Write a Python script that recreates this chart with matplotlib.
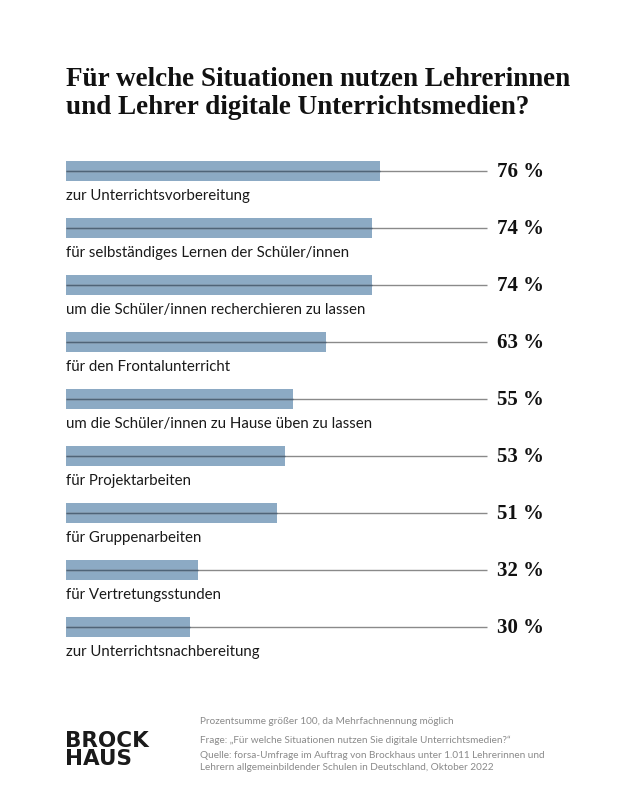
import matplotlib.pyplot as plt

# data
labels = [
    "zur Unterrichtsvorbereitung",
    "für selbständiges Lernen der Schüler/innen",
    "um die Schüler/innen recherchieren zu lassen",
    "für den Frontalunterricht",
    "um die Schüler/innen zu Hause üben zu lassen",
    "für Projektarbeiten",
    "für Gruppenarbeiten",
    "für Vertretungsstunden",
    "zur Unterrichtsnachbereitung",
]
values = [76, 74, 74, 63, 55, 53, 51, 32, 30]

title = "Für welche Situationen nutzen Lehrerinnen\nund Lehrer digitale Unterrichtsmedien?"
notes = [
    "Prozentsumme größer 100, da Mehrfachnennung möglich",
    "Frage: „Für welche Situationen nutzen Sie digitale Unterrichtsmedien?“",
    "Quelle: forsa-Umfrage im Auftrag von Brockhaus unter 1.011 Lehrerinnen und",
    "Lehrern allgemeinbildender Schulen in Deutschland, Oktober 2022",
]

bar_color = "#8caac4"
line_color = "#8a8a8a"
W, H = 636, 806

fig = plt.figure(figsize=(W / 100, H / 100), dpi=100)
fig.patch.set_facecolor("white")

# axes in pixel placement: x 66..479 px = 0..100 %, y 142.5..655.5 px
left, right = 66, 479
top, bottom = 142.5, 655.5
ax = fig.add_axes([left / W, 1 - bottom / H, (right - left) / W, (bottom - top) / H])
ax.set_xlim(0, 100)
ax.set_ylim(len(values) - 0.5, -0.5)
ax.axis("off")

ypos = list(range(len(values)))
ax.barh(ypos, values, height=0.36, color=bar_color, zorder=1)
ax.hlines(ypos, 0, 102, color=line_color, lw=1, zorder=2, clip_on=False)
ax.hlines(ypos, 0, values, color="#4f6478", lw=1, zorder=3)

for i, (lab, v) in enumerate(zip(labels, values)):
    ax.text(0, i + 0.43, lab, ha="left", va="center", fontsize=10.8,
            family="Lato", color="#1a1a1a")
    ax.text(104.4, i + 0.02, f"{v} %", ha="left", va="center", fontsize=15,
            family="Liberation Serif", weight="bold", color="#111111")

fig.text(66 / W, 1 - 76 / H, title.split("\n")[0], ha="left", va="center_baseline",
         fontsize=19.5, family="Liberation Serif", weight="bold", color="#111111")
fig.text(66 / W, 1 - 104 / H, title.split("\n")[1], ha="left", va="center_baseline",
         fontsize=19.5, family="Liberation Serif", weight="bold", color="#111111")

# logo
fig.text(65 / W, 1 - 750 / H, "BROCK\nHAUS", ha="left", va="center", fontsize=15.5,
         family="DejaVu Sans", weight="bold", color="#1a1a1a", linespacing=0.85)

for yy, note in zip([721, 740, 755, 767], notes):
    fig.text(200 / W, 1 - yy / H, note, ha="left", va="center", fontsize=7.2,
             family="Lato", color="#8a8a8a")

fig.savefig("out.png", dpi=100)
